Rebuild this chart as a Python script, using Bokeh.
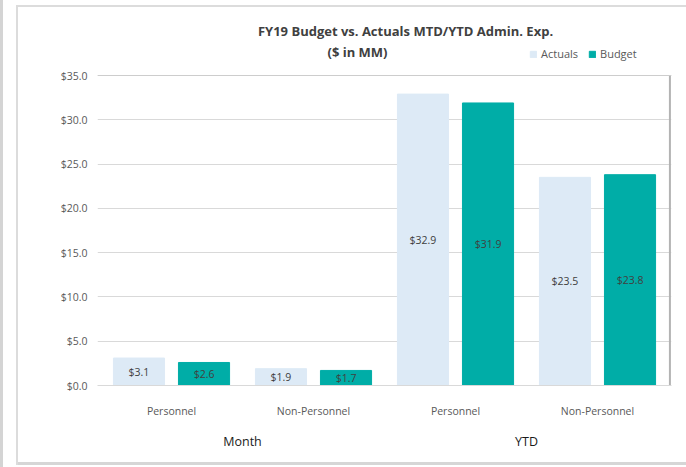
from bokeh.plotting import figure
from bokeh.models import (FactorRange, Range1d, NumeralTickFormatter, Legend, LegendItem,
                          Label, ColumnDataSource, FixedTicker, Span)
from bokeh.transform import dodge
from bokeh.core.properties import value
from bokeh.embed import file_html
from bokeh.resources import INLINE

# ---- data ----
periods = ["Month", "Month", "YTD", "YTD"]
categories = ["Personnel", "Non-Personnel", "Personnel", "Non-Personnel"]
actuals = [3.1, 1.9, 32.9, 23.5]
budget = [2.6, 1.7, 31.9, 23.8]
y_ticks = [0, 5, 10, 15, 20, 25, 30, 35]
title_text = "FY19 Budget vs. Actuals MTD/YTD Admin. Exp."
subtitle_text = "($ in MM)"

FONT = "Open Sans"
ACT_COLOR = "#DDEAF6"
BUD_COLOR = "#00ADA7"

factors = list(zip(periods, categories))
src = ColumnDataSource(dict(
    x=factors,
    actuals=actuals,
    budget=budget,
    a_mid=[v / 2 for v in actuals],
    b_mid=[v / 2 for v in budget],
    a_lbl=[f"${v:.1f}" for v in actuals],
    b_lbl=[f"${v:.1f}" for v in budget],
))

Y_MAX = 35 * 375 / 310  # frame extends above the $35 line to host the title/legend

p = figure(width=686, height=467,
           x_range=FactorRange(*factors, group_padding=0, range_padding=3 / 142,
                               range_padding_units="absolute"),
           y_range=Range1d(0, Y_MAX),
           output_backend="svg", toolbar_location=None,
           min_border_left=97, min_border_right=15,
           min_border_top=10, min_border_bottom=82)
p.background_fill_color = "white"
p.border_fill_alpha = 0
p.outline_line_color = None
p.styles = {
    "background-color": "white",
    "background-image": ("linear-gradient(#d4d4d4,#d4d4d4), linear-gradient(#dcdcdc,#dcdcdc), "
                         "linear-gradient(#dcdcdc,#dcdcdc), linear-gradient(#d6d6d6,#d6d6d6)"),
    "background-size": "3px 100%, 2px 460px, 680px 2px, 680px 3px",
    "background-position": "0px 0px, 16px 5px, 16px 5px, 16px 462px",
    "background-repeat": "no-repeat",
}

ra = p.vbar(x=dodge("x", -0.229, range=p.x_range), top="actuals", width=0.36,
            source=src, fill_color=ACT_COLOR, line_color=ACT_COLOR)
rb = p.vbar(x=dodge("x", 0.229, range=p.x_range), top="budget", width=0.36,
            source=src, fill_color=BUD_COLOR, line_color=BUD_COLOR)

for xo, ycol, tcol in [(-0.229, "a_mid", "a_lbl"), (0.229, "b_mid", "b_lbl")]:
    p.text(x=dodge("x", xo, range=p.x_range), y=ycol, text=tcol, source=src,
           text_align="center", text_baseline="middle",
           text_font=value(FONT), text_font_size="10.5px", text_color="#404040")

# axes
p.yaxis.ticker = FixedTicker(ticks=y_ticks)
p.yaxis.formatter = NumeralTickFormatter(format="$0.0")
p.yaxis.axis_line_color = None
p.yaxis.major_tick_line_color = None
p.yaxis.minor_tick_line_color = None
p.yaxis.major_label_standoff = 4
p.yaxis.major_label_text_font = FONT
p.yaxis.major_label_text_font_size = "10.5px"
p.yaxis.major_label_text_color = "#595959"

p.xaxis.axis_line_color = "#d9d9d9"
p.xaxis.major_tick_line_color = None
p.xaxis.minor_tick_line_color = None
p.xaxis.major_label_standoff = 12
p.xaxis.major_label_text_font = FONT
p.xaxis.major_label_text_font_size = "10.5px"
p.xaxis.major_label_text_color = "#595959"
p.xaxis.group_text_font = FONT
p.xaxis.group_text_font_size = "12.5px"
p.xaxis.group_text_color = "#1a1a1a"
p.xaxis.group_text_font_style = "normal"
p.xaxis.separator_line_color = None

p.xgrid.grid_line_color = None
p.ygrid.grid_line_color = "#d9d9d9"
p.ygrid.ticker = FixedTicker(ticks=y_ticks)

# plot-area border (top and right)
p.add_layout(Span(location=35, dimension="width", line_color="#cdcdcd", line_width=1))
p.segment(x0=[4.01], y0=[0], x1=[4.01], y1=[35], line_color="#b3b3b3", line_width=2)

# titles
p.add_layout(Label(x=308, y=355, x_units="screen", y_units="screen", text=title_text,
                   text_align="center", text_baseline="middle", text_font=FONT,
                   text_font_style="bold", text_font_size="13px", text_color="#404040"))
p.add_layout(Label(x=260, y=334, x_units="screen", y_units="screen", text=subtitle_text,
                   text_align="center", text_baseline="middle", text_font=FONT,
                   text_font_style="bold", text_font_size="13px", text_color="#404040"))

# legend
legend = Legend(items=[LegendItem(label="Actuals", renderers=[ra]),
                       LegendItem(label="Budget", renderers=[rb])],
                orientation="horizontal", location=(432, 324),
                glyph_width=8, glyph_height=8, label_standoff=4, spacing=10,
                padding=0, margin=0, border_line_color=None, background_fill_alpha=0,
                label_text_font=FONT, label_text_font_size="11px",
                label_text_color="#595959", label_height=12)
p.add_layout(legend)

open("out.html", "w").write(file_html(p, INLINE))
